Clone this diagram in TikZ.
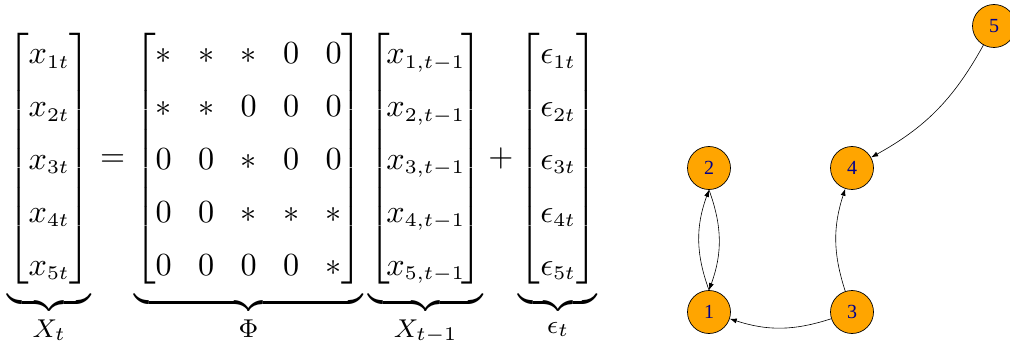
\documentclass[tikz,border=0pt]{standalone}
\usepackage{amsmath}
\usepackage{graphicx}
\usepackage{fontspec}
\DeclareMathSizes{10}{10}{6}{5}
\newfontfamily\nodefont{Liberation Serif}
\usetikzlibrary{arrows.meta}
\definecolor{nodeorange}{RGB}{255,165,0}
\definecolor{labelblue}{RGB}{0,0,139}
\newcommand{\bracelabel}[1]{\mbox{\fontsize{8}{8}\selectfont$#1$}}
\newcommand{\xlag}[1]{\mkern-2mu x_{#1,t-1}\mkern-2mu}
\begin{document}
\begin{tikzpicture}[x=1pt,y=-1pt,
  vnode/.style={circle,draw=black,line width=0.7pt,fill=nodeorange,minimum size=43pt,inner sep=0pt,text=labelblue,font=\nodefont\fontsize{20}{20}\selectfont},
  edge/.style={-{Latex[length=7pt,width=5pt]},line width=0.6pt}]
\useasboundingbox (0,0) rectangle (1010,342);
\node[anchor=north west,inner sep=0pt] (eq) at (7,26) {\scalebox{3.22}{$\renewcommand{\arraystretch}{1.37}\setlength{\arraycolsep}{4.1pt}
\underbrace{\begin{bmatrix} x_{1t}\\ x_{2t}\\ x_{3t}\\ x_{4t}\\ x_{5t}\end{bmatrix}}_{\bracelabel{X_t}}
=
\underbrace{\begin{bmatrix} \ast & \ast & \ast & 0 & 0\\ \ast & \ast & 0 & 0 & 0\\ 0 & 0 & \ast & 0 & 0\\ 0 & 0 & \ast & \ast & \ast\\ 0 & 0 & 0 & 0 & \ast\end{bmatrix}}_{\bracelabel{\Phi}}
\underbrace{\begin{bmatrix} \xlag{1}\\ \xlag{2}\\ \xlag{3}\\ \xlag{4}\\ \xlag{5}\end{bmatrix}}_{\bracelabel{X_{t-1}}}
+
\underbrace{\begin{bmatrix} \epsilon_{1t}\\ \epsilon_{2t}\\ \epsilon_{3t}\\ \epsilon_{4t}\\ \epsilon_{5t}\end{bmatrix}}_{\bracelabel{\epsilon_t}}
$}};
\node[vnode] (n1) at (709,312) {1};
\node[vnode] (n2) at (709,168) {2};
\node[vnode] (n3) at (852,312) {3};
\node[vnode] (n4) at (852,168) {4};
\node[vnode] (n5) at (994,26) {5};
\draw[edge] (n1.north) to[out=110,in=-110] (n2.south);
\draw[edge] (n2.south) to[out=-70,in=70] (n1.north);
\draw[edge] (n3) to[bend left=18] (n1);
\draw[edge] (n3) to[bend left=18] (n4);
\draw[edge] (n5) to[bend left=16] (n4);
\end{tikzpicture}
\end{document}
